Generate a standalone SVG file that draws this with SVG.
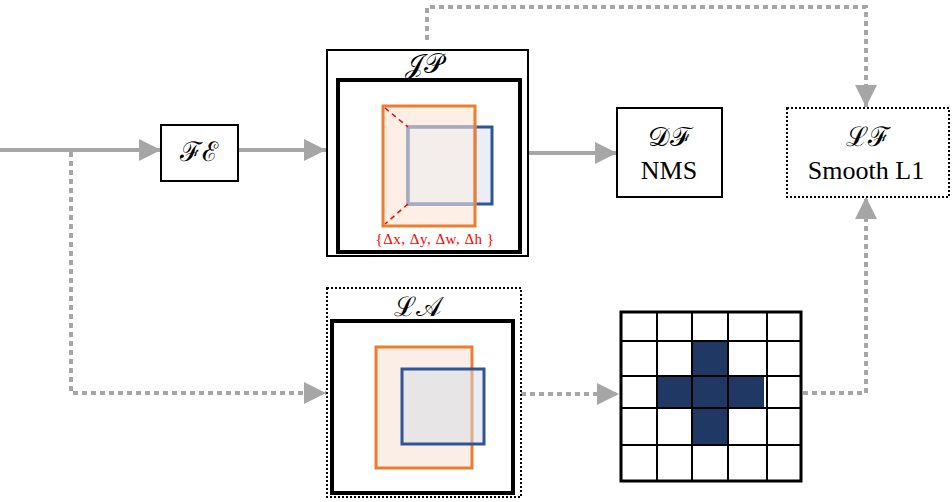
<svg xmlns="http://www.w3.org/2000/svg" width="952" height="502" viewBox="0 0 952 502">
<defs>
<style>
.solid{fill:none;stroke:#A6A6A6;stroke-width:4}
.dot{fill:none;stroke:#A6A6A6;stroke-width:4;stroke-dasharray:5 4}
.box{fill:#fff;stroke:#000;stroke-width:2}
.thick{fill:none;stroke:#000;stroke-width:4}
.dbox{fill:#fff;stroke:#000;stroke-width:2;stroke-dasharray:2 2}
.t{font-family:"Liberation Serif","DejaVu Serif",serif;font-size:26px;fill:#000;text-anchor:middle}
.s{font-family:"DejaVu Serif","Liberation Serif",serif;font-size:27px;fill:#000;text-anchor:middle}
.grid{stroke:#000;stroke-width:2}
.cell{fill:#1F3864}
</style>
<marker id="ah" viewBox="0 0 10 10" refX="10" refY="5" markerWidth="5.5" markerHeight="5.5" markerUnits="strokeWidth" orient="auto">
<path d="M0,0 L10,5 L0,10 z" fill="#A6A6A6"/>
</marker>
</defs>
<rect width="952" height="502" fill="#fff"/>
<g id="connectors">
<path class="solid" d="M0,150 H161" marker-end="url(#ah)"/>
<path class="solid" d="M239,150 H326" marker-end="url(#ah)"/>
<path class="solid" d="M528,153 H617" marker-end="url(#ah)"/>
<path class="dot" d="M71,152 V393 H326" marker-end="url(#ah)"/>
<path class="dot" d="M427,40 V7 H866 V107" marker-end="url(#ah)"/>
<path class="dot" d="M521,394 H619" marker-end="url(#ah)"/>
<path class="dot" d="M803,393 H866 V197" marker-end="url(#ah)"/>
</g>
<g id="FE">
<rect class="box" x="161" y="125" width="77" height="56"/>
<text class="s" x="199" y="161">ℱℰ</text>
</g>
<g id="JP">
<rect class="box" x="327" y="50" width="201" height="206"/>
<rect class="thick" x="338" y="80" width="182" height="172"/>
<text class="s" x="424" y="73">𝒥𝒫</text>
<rect x="408" y="127" width="84" height="77" fill="#E9EEF7" stroke="#2F5597" stroke-width="3"/>
<rect x="383" y="106" width="92" height="120" fill="#F8CBAD" fill-opacity="0.3" stroke="none"/>
<rect x="408" y="127" width="67" height="77" fill="#fff" fill-opacity="0.35" stroke="#A6ACC0" stroke-width="3"/>
<rect x="383" y="106" width="92" height="120" fill="none" stroke="#ED7D31" stroke-width="3"/>
<path d="M385,108 L408,127 M408,204 L385,224" stroke="#FF0000" stroke-width="1.5" stroke-dasharray="5 4" fill="none"/>
<text x="435" y="244" font-family="Liberation Serif, serif" font-size="15" fill="#FF0000" text-anchor="middle" letter-spacing="0.5">{Δx,  Δy, Δw, Δh }</text>
</g>
<g id="DF">
<rect class="box" x="617" y="108" width="105" height="89"/>
<text class="s" x="669" y="146">𝒟ℱ</text>
<text class="t" x="669" y="179">NMS</text>
</g>
<g id="LF">
<rect class="dbox" x="787" y="108" width="162" height="89"/>
<text class="s" x="868" y="146">ℒℱ</text>
<text class="t" x="866" y="179">Smooth  L1</text>
</g>
<g id="LA">
<rect class="dbox" x="327" y="288" width="194" height="209"/>
<rect class="thick" x="332" y="321" width="181" height="172"/>
<text class="s" x="418" y="316">ℒ𝒜</text>
<rect x="376" y="347" width="96" height="121" fill="#FBEEE6" stroke="#ED7D31" stroke-width="3"/>
<rect x="402" y="369" width="82" height="75" fill="#D6DCE5" fill-opacity="0.5" stroke="#2F5597" stroke-width="3"/>
</g>
<g id="grid">
<rect class="cell" x="692" y="340" width="36" height="104"/>
<rect class="cell" x="656" y="375" width="108" height="33"/>
<g class="grid">
<line x1="657" y1="312" x2="657" y2="480"/>
<line x1="692" y1="312" x2="692" y2="480"/>
<line x1="728" y1="312" x2="728" y2="480"/>
<line x1="767" y1="312" x2="767" y2="480"/>
<line x1="621" y1="341" x2="800" y2="341"/>
<line x1="621" y1="376" x2="800" y2="376"/>
<line x1="621" y1="408" x2="800" y2="408"/>
<line x1="621" y1="445" x2="800" y2="445"/>
</g>
<rect x="621" y="312" width="180" height="169" fill="none" stroke="#000" stroke-width="3"/>
</g>
</svg>
